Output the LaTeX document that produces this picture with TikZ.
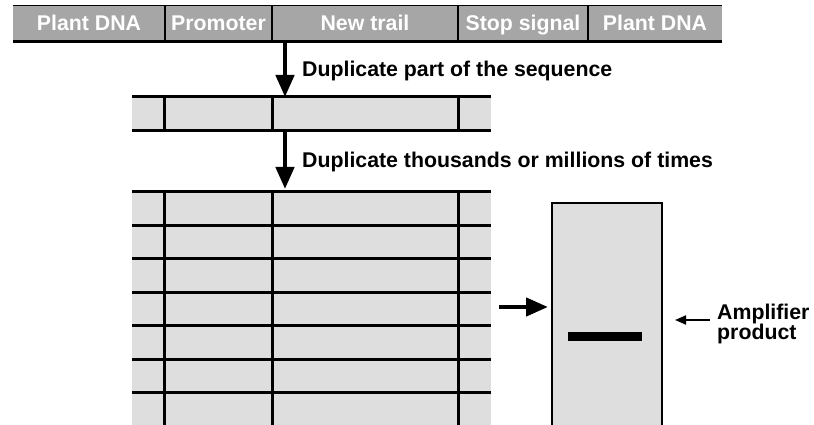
\documentclass[tikz,border=0pt]{standalone}
\usepackage{fontspec}
\setmainfont{Liberation Sans}
\usetikzlibrary{arrows.meta}
\definecolor{bargrey}{HTML}{A6A6A6}
\definecolor{cellgrey}{HTML}{DEDEDE}
\begin{document}
\begin{tikzpicture}[x=1pt,y=-1pt,
  lbl/.style={font=\fontsize{21.3}{19.5}\selectfont\bfseries, inner sep=0pt},
  topcell/.style={lbl, text=white, fill=bargrey, minimum height=35pt, text height=19pt, text depth=4pt, anchor=center},
  gridline/.style={line width=3pt, black},
  barline/.style={line width=2.5pt, black},
  bigarrow/.style={line width=4.5pt, -{Triangle[width=18pt,length=22pt]}},
  smallarrow/.style={line width=2pt, -{Triangle[width=9pt,length=11pt]}}
]
\useasboundingbox (0,0) rectangle (814,425);
% top bar
\node[topcell, minimum width=152pt] (c1) at (89,23.5) {Plant DNA};
\node[topcell, minimum width=107pt] (c2) at (218.5,23.5) {Promoter};
\node[topcell, minimum width=186pt] (c3) at (365,23.5) {New trail};
\node[topcell, minimum width=130pt] (c4) at (523,23.5) {Stop signal};
\node[topcell, minimum width=134pt] (c5) at (655,23.5) {Plant DNA};
\draw[line width=1pt] (c1.north west) -- (c5.north east);
\draw[line width=3pt] (c1.south west) -- (c5.south east);
\foreach \a in {c1,c2,c3,c4}{
  \draw[barline] (\a.north east) -- (\a.south east);
}
% second bar
\fill[cellgrey] (132,97) rectangle (491,131);
\coordinate (s0) at (132,97);
\coordinate (s1) at (491,97);
\coordinate (t0) at (132,131);
\coordinate (t1) at (491,131);
\draw[gridline] (s0) -- (s1);
\draw[gridline] (t0) -- (t1);
\foreach \x in {164,272,458}{
  \draw[gridline] (\x,97) -- (\x,131);
}
% grid
\fill[cellgrey] (132,191) rectangle (491,425);
\foreach \y in {191,225,258,292,325,359,392}{
  \draw[gridline] (132,\y) -- (491,\y);
}
\foreach \x in {164,272,458}{
  \draw[gridline] (\x,191) -- (\x,425);
}
% arrows and labels
\coordinate (a1s) at (285,41);
\coordinate (a1e) at (285,97);
\coordinate (a2s) at (285,131);
\coordinate (a2e) at (285,189);
\draw[bigarrow] (a1s) -- (a1e);
\draw[bigarrow] (a2s) -- (a2e);
\node[lbl, anchor=west] (l1) at (302,71) {Duplicate part of the sequence};
\node[lbl, anchor=west] (l2) at (302,162) {Duplicate thousands or millions of times};
% gel
\node[draw, fill=cellgrey, line width=2pt, minimum width=110pt, minimum height=240pt, inner sep=0pt] (gel) at (607,323) {};
\node[fill=black, minimum width=74pt, minimum height=9pt, inner sep=0pt] (band) at (605,336.5) {};
\coordinate (g0) at (499,307);
\draw[bigarrow, shorten >=3pt] (g0) -- (g0 -| gel.west);
\node[lbl, anchor=west, align=left] (amp) at (717,324) {Amplifier\\product};
\coordinate (p0) at (710,320);
\coordinate (p1) at (675,320);
\draw[smallarrow] (p0) -- (p1);
\end{tikzpicture}
\end{document}
